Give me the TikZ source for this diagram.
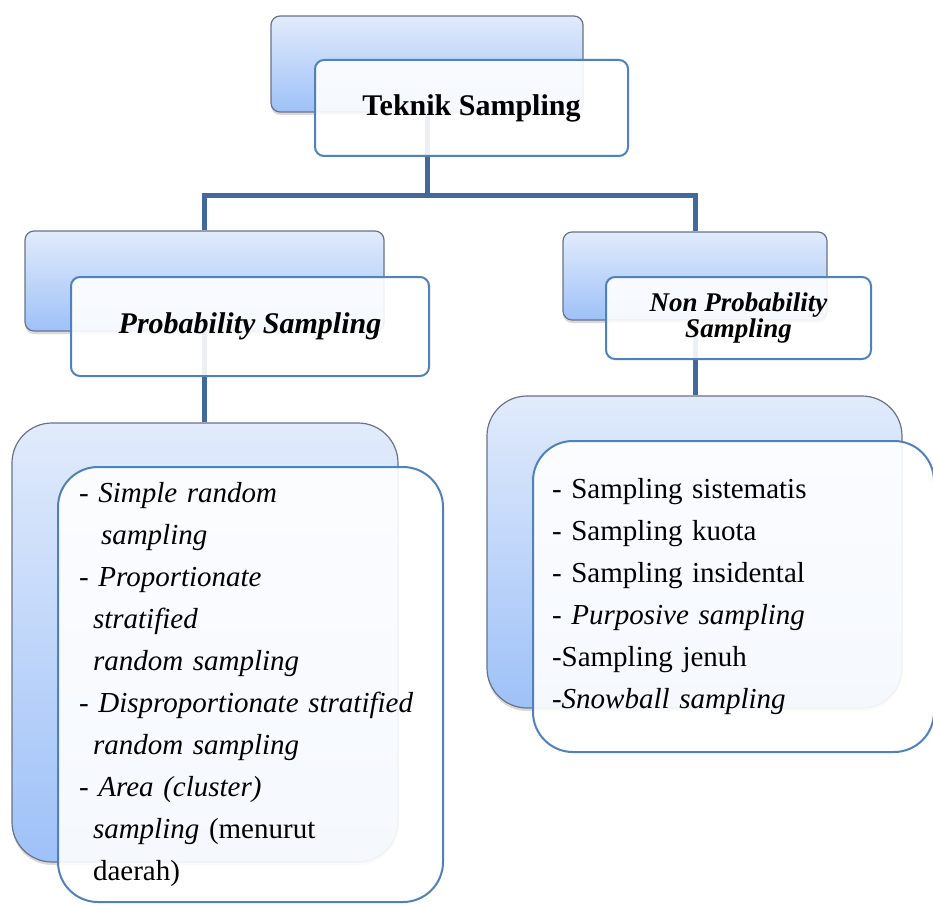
\documentclass[tikz,border=0pt]{standalone}
\usepackage{fontspec}
\setmainfont{Liberation Serif}
\usetikzlibrary{positioning, shadows}

\definecolor{linkblue}{RGB}{66,104,156}
\definecolor{frameblue}{RGB}{79,129,189}
\definecolor{backtop}{RGB}{225,235,251}
\definecolor{backbot}{RGB}{158,193,248}
\definecolor{backedge}{RGB}{105,115,135}

\begin{document}
\begin{tikzpicture}[x=1pt, y=-1pt,
    backbox/.style={draw=backedge, line width=1.2pt, rounded corners=9pt, top color=backtop, bottom color=backbot,
      inner sep=0pt, drop shadow={shadow xshift=0pt, shadow yshift=-3pt, opacity=0.3}},
    frontbox/.style={draw=frameblue, line width=2pt, rounded corners=9pt, fill=white, fill opacity=0.9,
      text opacity=1, inner sep=0pt, align=center},
    listbox/.style={frontbox, rounded corners=40pt, align=left, inner ysep=0pt},
    link/.style={draw=linkblue, line width=5pt}]
    \useasboundingbox (0,0) rectangle (933,904);

    % back cards
    \node[backbox, minimum width=312pt, minimum height=96pt] (topback) at (427,64) {};
    \node[backbox, minimum width=359pt, minimum height=100pt] (probback) at (204.5,281) {};
    \node[backbox, minimum width=264pt, minimum height=88pt] (nonback) at (695,276) {};
    \node[backbox, rounded corners=40pt, minimum width=386pt, minimum height=439pt] (problistback) at (205,642.5) {};
    \node[backbox, rounded corners=40pt, minimum width=415pt, minimum height=312pt] (nonlistback) at (694.5,552) {};

    % connectors
    \draw[link] (topback.south) -- ++(0,83) coordinate (fork) -| (probback.north);
    \draw[link] (fork) -| (nonback.north);
    \draw[link] (probback.south) -- (probback.south |- problistback.north);
    \draw[link] (nonback.south) -- (nonback.south |- nonlistback.north);

    % front cards
    \node[frontbox, minimum width=313pt, minimum height=96pt, font=\fontsize{30pt}{34pt}\selectfont\bfseries]
      (top) at (471.5,108) {Teknik Sampling};
    \node[frontbox, minimum width=358pt, minimum height=99pt, font=\fontsize{30pt}{34pt}\selectfont\bfseries\itshape]
      (prob) at (250,326.5) {Probability Sampling};
    \node[frontbox, minimum width=265pt, minimum height=82pt, font=\fontsize{27pt}{26pt}\selectfont\bfseries\itshape]
      (non) at (738.5,318) {Non Probability\\Sampling};

    \node[listbox, minimum width=385pt, minimum height=435pt, inner xsep=21pt, text width=343pt,
      font=\fontsize{29pt}{42pt}\selectfont] (problist) at (250.5,684.5) {%
      - \textit{Simple random}\\
      \hspace*{22pt}\textit{sampling}\\
      - \textit{Proportionate}\\
      \hspace*{14pt}\textit{stratified}\\
      \hspace*{14pt}\textit{random sampling}\\
      - \textit{Disproportionate stratified}\\
      \hspace*{14pt}\textit{random sampling}\\
      - \textit{Area (cluster)}\\
      \hspace*{14pt}\textit{sampling} (menurut\\
      \hspace*{14pt}daerah)};
    \node[listbox, minimum width=401pt, minimum height=311pt, inner xsep=19pt, text width=363pt,
      font=\fontsize{29pt}{42pt}\selectfont] (nonlist) at (733.5,596.5) {%
      - Sampling sistematis\\
      - Sampling kuota\\
      - Sampling insidental\\
      - \textit{Purposive sampling}\\
      -Sampling jenuh\\
      -\textit{Snowball sampling}};
\end{tikzpicture}
\end{document}
